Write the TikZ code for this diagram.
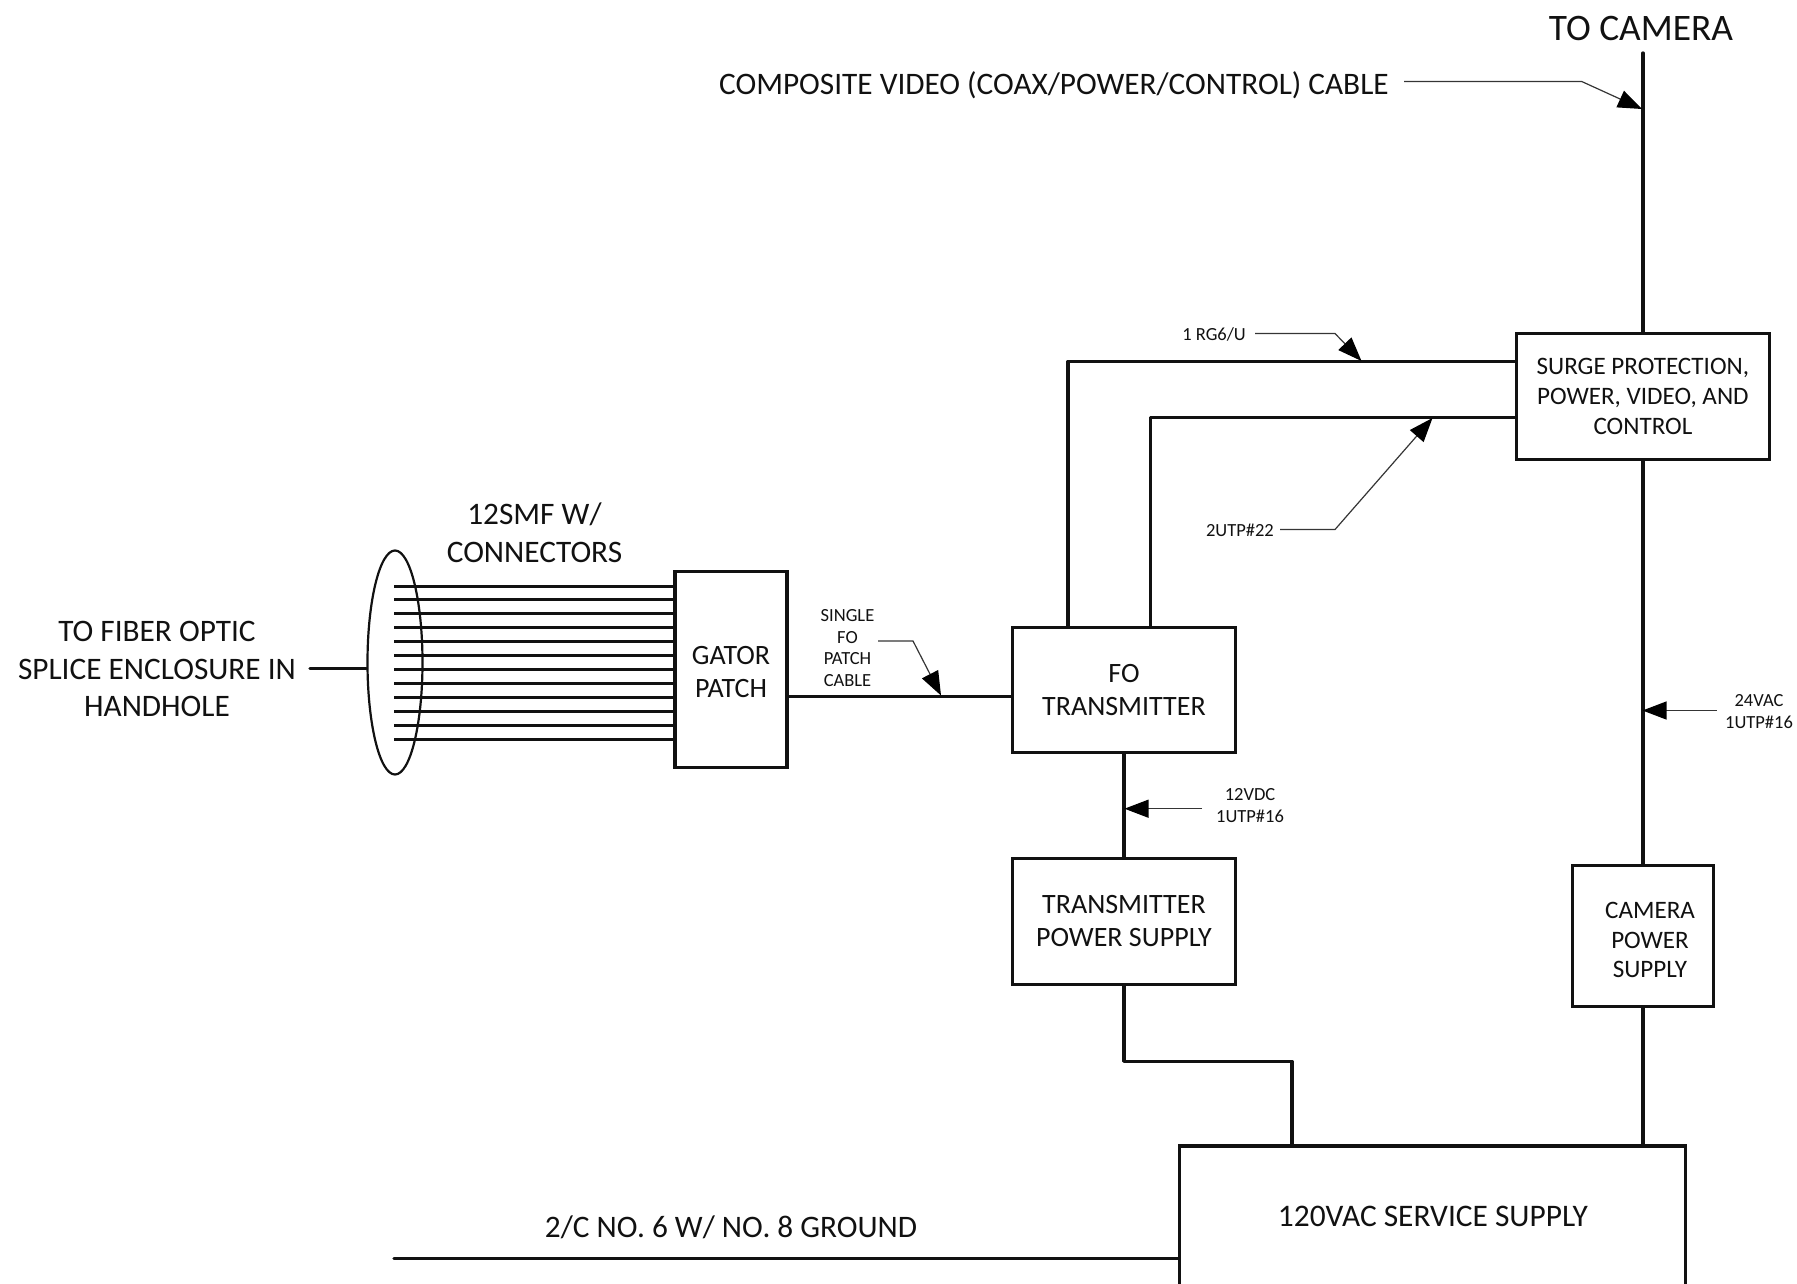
\documentclass[tikz,border=0pt]{standalone}
\usepackage{fontspec}
\setmainfont{Carlito}
\usetikzlibrary{arrows.meta,calc,shapes.geometric}
\definecolor{ink}{HTML}{111111}
\tikzset{
  wire/.style={draw=ink,line width=3.3pt,line cap=round,line join=round},
  fiber/.style={draw=ink,line width=3pt},
  leader/.style={draw=ink!85,line width=1.2pt,-{Triangle[length=24pt,width=18pt,color=black]}},
  boxn/.style={draw=ink,line width=3.3pt,fill=white,inner sep=0pt,align=center,text=ink,font=\fontsize{28}{33}\selectfont},
  boxsmall/.style={boxn,font=\fontsize{25.1}{29.8}\selectfont},
  biglabel/.style={inner sep=0pt,align=center,text=ink,font=\fontsize{31.3}{37.5}\selectfont},
  smalllabel/.style={inner sep=0pt,align=center,text=ink,font=\fontsize{18.5}{21.8}\selectfont},
}
\begin{document}
\begin{tikzpicture}[x=1pt,y=-1pt]
\useasboundingbox (0,0) rectangle (1797,1283);
\coordinate (camtop) at (1643,53);
\coordinate (fiberleft) at (310,668.5);
\coordinate (gndleft) at (394,1258.5);
\coordinate (tipcomp) at (1642,109);
\coordinate (bendcomp) at (1581.5,81.4);
\coordinate (tiprg) at (1361.5,361);
\coordinate (bendrg) at (1335,333.5);
\coordinate (tiputp) at (1432.5,418);
\coordinate (bendutp) at (1335,529.5);
\coordinate (tipsfo) at (941,695.5);
\coordinate (bendsfo) at (913,641);
\coordinate (tipvdc) at (1124.5,808.7);
\coordinate (tipvac) at (1642.5,710.5);
\coordinate (rgx) at (1068,0);
\coordinate (utpx) at (1150.6,0);
\coordinate (rgcorner) at (1068,361.5);
\coordinate (utpcorner) at (1150.6,417.2);
\coordinate (psa) at (1124,1061.3);
\coordinate (psb) at (1292,1061.3);

\node[draw=ink,line width=2.2pt,ellipse,minimum width=55pt,minimum height=224pt,inner sep=0pt] (bundle) at (395,662.5) {};

\node[boxn,minimum width=112pt,minimum height=196pt] (gator) at (731,669.5) {};
\node[boxn,draw=none,fill=none] (gatortext) at (731,672) {GATOR\\PATCH};
\node[boxn,minimum width=223.3pt,minimum height=125.5pt] (fotx) at (1124,690) {FO\\TRANSMITTER};
\node[boxn,minimum width=223.3pt,minimum height=126pt] (txps) at (1124,921.3) {TRANSMITTER\\POWER SUPPLY};
\node[boxsmall,minimum width=253.3pt,minimum height=126pt] (surge) at (1642.9,396.5) {SURGE PROTECTION,\\POWER, VIDEO, AND\\CONTROL};
\node[boxn,minimum width=141pt,minimum height=141pt] (campsbox) at (1642.9,935.7) {};
\node[boxsmall,draw=none,fill=none] (campstext) at (1650,940) {CAMERA\\POWER\\SUPPLY};
\node[draw=ink,line width=3.3pt,minimum width=506.5pt,minimum height=240pt,inner sep=0pt] (service) at (1432.5,1266) {};
\node[inner sep=0pt,text=ink,font=\fontsize{31.4}{37}\selectfont] (servicetext) at (1433,1216.5) {120VAC SERVICE SUPPLY};

% fibres
\foreach \i in {0,...,11}{
  \coordinate (fs\i) at (394,{586+13.91*\i});
  \coordinate (fe\i) at (gator.west |- fs\i);
  \draw[fiber] (fs\i) -- (fe\i);
}

% connectors
\coordinate (patchy) at (0,696.5);
\draw[wire] (fiberleft) -- (bundle.west |- fiberleft);
\draw[wire] (gator.east |- patchy) -- (fotx.west |- patchy);
\draw[wire] (camtop) -- (surge.north -| camtop);
\draw[wire] (surge.south -| camtop) -- (campsbox.north -| camtop);
\draw[wire] (campsbox.south -| camtop) -- (service.north -| camtop);
\draw[wire] (fotx.south) -- (txps.north);
\draw[wire] (rgx |- fotx.north) -- (rgcorner) -- (surge.west |- rgcorner);
\draw[wire] (utpx |- fotx.north) -- (utpcorner) -- (surge.west |- utpcorner);
\draw[wire] (txps.south) -- (psa) -- (psb) -- (psb |- service.north);
\draw[wire] (gndleft) -- (service.west |- gndleft);

% labels
\node[inner sep=0pt,text=ink,font=\fontsize{37.4}{42}\selectfont] (tocam) at (1641,28) {TO CAMERA};
\node[biglabel,anchor=east] (comp) at (1389,85) {COMPOSITE VIDEO (COAX/POWER/CONTROL) CABLE};
\node[biglabel] (smf) at (534.5,532.5) {12SMF W/\\CONNECTORS};
\node[biglabel] (tofo) at (157,669) {TO FIBER OPTIC\\SPLICE ENCLOSURE IN\\HANDHOLE};
\node[biglabel] (gnd) at (731,1227) {2/C NO. 6 W/ NO. 8 GROUND};
\node[smalllabel,anchor=east] (rg) at (1246,334) {1 RG6/U};
\node[smalllabel,anchor=east] (utp) at (1274,530) {2UTP\#22};
\node[smalllabel] (sfo) at (847.5,648) {SINGLE\\FO\\PATCH\\CABLE};
\node[smalllabel] (vdc) at (1250,805.5) {12VDC\\1UTP\#16};
\node[smalllabel] (vac) at (1759,711.5) {24VAC\\1UTP\#16};

% leaders
\draw[leader] (comp.east |- bendcomp) ++(15,0) -- (bendcomp) -- (tipcomp);
\draw[leader] (rg.east |- bendrg) ++(9,0) -- (bendrg) -- (tiprg);
\draw[leader] (utp.east |- bendutp) ++(6,0) -- (bendutp) -- (tiputp);
\draw[leader] (878,641) -- (bendsfo) -- (tipsfo);
\draw[leader] (1202,808.7) -- (tipvdc);
\draw[leader] (1716.8,710.5) -- (tipvac);
\end{tikzpicture}
\end{document}
